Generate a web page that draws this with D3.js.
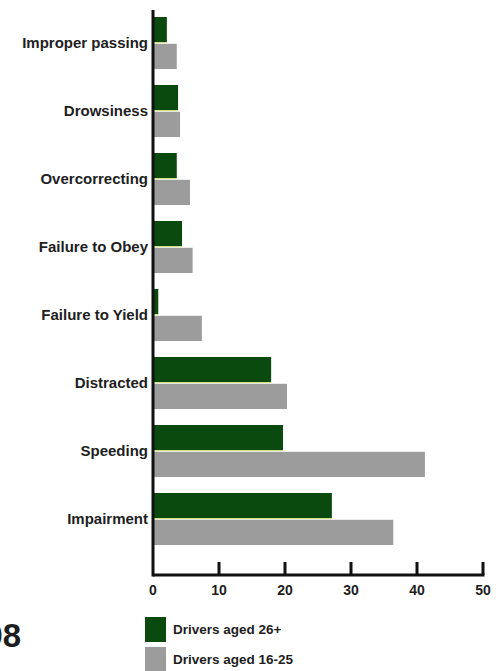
<!DOCTYPE html>
<html>
<head>
<meta charset="utf-8">
<script src="https://cdn.jsdelivr.net/npm/d3@7"></script>
<style>
  body { margin: 0; background: #fff; }
  svg text { font-family: "Liberation Sans", Arial, sans-serif; font-weight: bold; fill: #1e1e1e; }
</style>
</head>
<body>
<svg id="chart" width="504" height="671"></svg>
<script>
const categories = ["Improper passing", "Drowsiness", "Overcorrecting", "Failure to Obey",
  "Failure to Yield", "Distracted", "Speeding", "Impairment"];
const older = [2.1, 3.8, 3.6, 4.4, 0.8, 17.9, 19.7, 27.1];   // Drivers aged 26+
const younger = [3.6, 4.1, 5.6, 6.0, 7.4, 20.3, 41.2, 36.4]; // Drivers aged 16-25
const xTicks = [0, 10, 20, 30, 40, 50];
const seriesNames = ["Drivers aged 26+", "Drivers aged 16-25"];
const seriesColors = ["#0b4a0e", "#9c9c9c"];

const svg = d3.select("#chart");
const x0 = 153, yTop = 10, yBase = 575;

const x = d3.scaleLinear().domain([0, 50]).range([x0, 483]);
const y = d3.scaleBand().domain(categories).range([9, 553]).paddingInner(0).paddingOuter(0);
const sub = d3.scaleBand().domain([0, 1]).range([8, y.bandwidth() - 8]).paddingInner(0.06);

const groups = svg.selectAll("g.cat")
  .data(categories)
  .enter()
  .append("g")
  .attr("class", "cat")
  .attr("transform", d => `translate(0,${y(d)})`);

// gray bars first, green on top
groups.append("rect")
  .attr("x", x(0) + 1)
  .attr("y", sub(1))
  .attr("width", (d, i) => x(younger[i]) - x(0) - 1)
  .attr("height", sub.bandwidth())
  .attr("fill", seriesColors[1]);

groups.append("rect")
  .attr("x", x(0) + 1)
  .attr("y", sub(0))
  .attr("width", (d, i) => x(older[i]) - x(0) - 1)
  .attr("height", sub.bandwidth())
  .attr("fill", seriesColors[0]);

// thin yellowish edge under the green bars
groups.append("line")
  .attr("x1", x(0) + 1)
  .attr("x2", (d, i) => x(older[i]))
  .attr("y1", sub(0) + sub.bandwidth() + 0.5)
  .attr("y2", sub(0) + sub.bandwidth() + 0.5)
  .attr("stroke", "#d4e27a")
  .attr("stroke-width", 1);

groups.append("text")
  .attr("x", x0 - 5)
  .attr("y", y.bandwidth() / 2)
  .attr("dy", "0.35em")
  .attr("text-anchor", "end")
  .attr("font-size", 15)
  .text(d => d);

// axes
svg.append("line")
  .attr("x1", x0).attr("x2", x0)
  .attr("y1", yTop).attr("y2", yBase + 1.5)
  .attr("stroke", "#111").attr("stroke-width", 3);

svg.append("line")
  .attr("x1", x0).attr("x2", x(50) + 1.5)
  .attr("y1", yBase).attr("y2", yBase)
  .attr("stroke", "#111").attr("stroke-width", 3);

svg.selectAll("line.tick")
  .data(xTicks.slice(1))
  .enter()
  .append("line")
  .attr("class", "tick")
  .attr("x1", d => x(d)).attr("x2", d => x(d))
  .attr("y1", yBase - 13).attr("y2", yBase)
  .attr("stroke", "#111").attr("stroke-width", 3);

svg.selectAll("text.tl")
  .data(xTicks)
  .enter()
  .append("text")
  .attr("class", "tl")
  .attr("x", d => x(d))
  .attr("y", 595)
  .attr("text-anchor", "middle")
  .attr("font-size", 14)
  .text(d => d);

// legend
const legend = svg.selectAll("g.leg")
  .data(seriesNames)
  .enter()
  .append("g")
  .attr("class", "leg")
  .attr("transform", (d, i) => `translate(145,${617 + i * 30})`);

legend.append("rect")
  .attr("width", 21)
  .attr("height", 25)
  .attr("fill", (d, i) => seriesColors[i]);

legend.append("text")
  .attr("x", 28)
  .attr("y", 12)
  .attr("dy", "0.35em")
  .attr("font-size", 13.5)
  .text(d => d);

// page number, cropped at the left edge as in the scan
svg.append("text")
  .attr("x", 21)
  .attr("y", 647)
  .attr("text-anchor", "end")
  .attr("font-size", 33)
  .style("font-family", "'Liberation Sans Narrow', 'Liberation Sans', sans-serif")
  .text("98");
</script>
</body>
</html>
